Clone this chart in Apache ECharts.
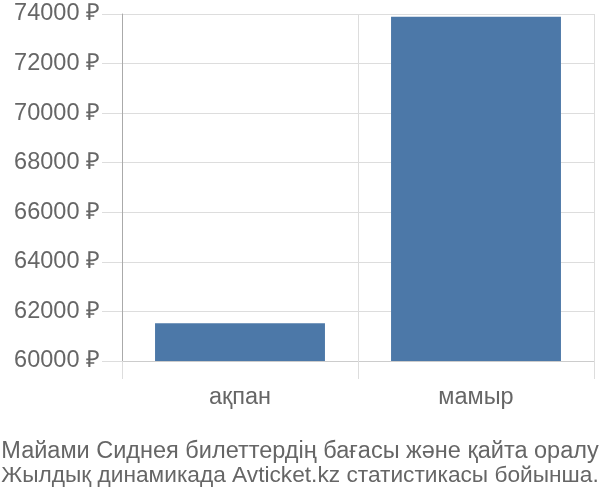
<!DOCTYPE html>
<html>
<head>
<meta charset="utf-8">
<script src="https://cdn.jsdelivr.net/npm/echarts@6/dist/echarts.min.js"></script>
<style>html,body{margin:0;padding:0;background:#fff}#c{width:600px;height:500px}</style>
</head>
<body>
<div id="c"></div>
<script>
var categories = ['ақпан', 'мамыр'];
var prices = [61520, 73890];
var titleLines = ['Майами Сиднея билеттердің бағасы және қайта оралу', 'Жылдық динамикада Avticket.kz статистикасы бойынша.'];

var titleFont = 'Liberation Sans, Arial, sans-serif';
var chart = echarts.init(document.getElementById('c'));
chart.setOption({
  animation: false,
  textStyle: { fontFamily: titleFont },
  title: [{
    text: titleLines[0],
    left: 'center',
    top: 439,
    padding: 0,
    textStyle: { fontSize: 23.5, fontWeight: 'normal', color: '#666', lineHeight: 26, fontFamily: titleFont }
  }, {
    text: titleLines[1],
    left: 'center',
    top: 463,
    padding: 0,
    textStyle: { fontSize: 22.7, fontWeight: 'normal', color: '#666', lineHeight: 26, fontFamily: titleFont }
  }],
  grid: { left: 122, right: 6, top: 14, bottom: 139 },
  xAxis: {
    type: 'category',
    data: categories,
    boundaryGap: true,
    axisLine: { show: true, lineStyle: { color: '#ccc', width: 1 } },
    axisTick: { show: true, length: 18, lineStyle: { color: '#ddd' } },
    splitLine: { show: true, lineStyle: { color: '#ddd' } },
    axisLabel: { fontSize: 23.5, color: '#666', margin: 25 }
  },
  yAxis: {
    type: 'value',
    min: 60000,
    max: 74000,
    interval: 2000,
    axisLine: { show: true, lineStyle: { color: '#aaa' } },
    axisTick: { show: true, length: 20, lineStyle: { color: '#ddd' } },
    splitLine: { show: true, lineStyle: { color: '#ddd' } },
    axisLabel: { fontSize: 23.5, color: '#666', margin: 22, formatter: function (v) { return v + ' ₽'; } }
  },
  series: [{
    type: 'bar',
    data: prices,
    barWidth: '72%',
    itemStyle: { color: '#4c78a8' }
  }]
});
</script>
</body>
</html>
